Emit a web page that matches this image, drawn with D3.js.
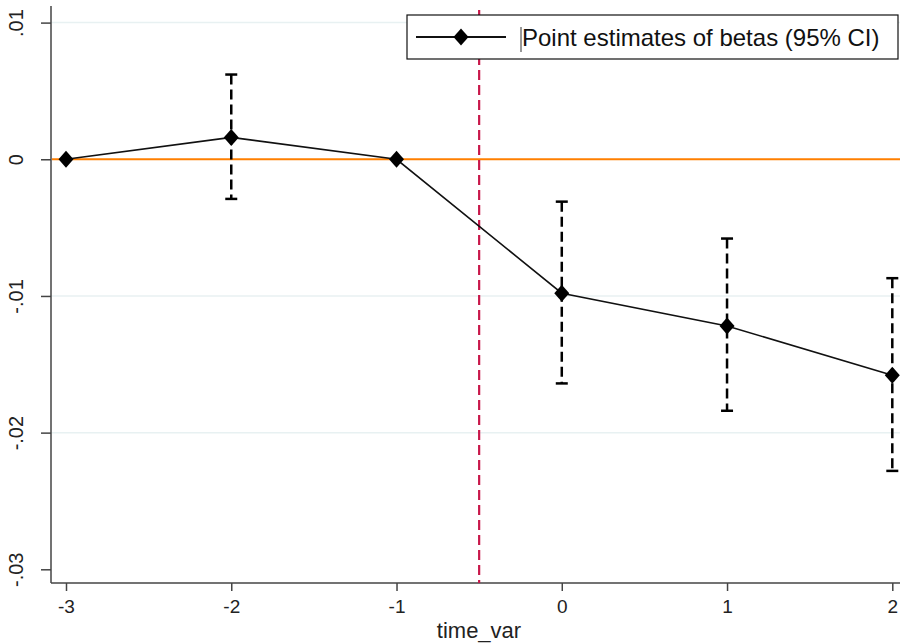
<!DOCTYPE html>
<html>
<head>
<meta charset="utf-8">
<script src="https://cdn.jsdelivr.net/npm/d3@7"></script>
<style>
  body { margin: 0; background: #fff; }
  svg { display: block; font-family: "Liberation Sans", Arial, sans-serif; }
</style>
</head>
<body>
<svg id="chart" width="900" height="643"></svg>
<script>
"use strict";
// event-study data
const periods = [-3, -2, -1, 0, 1, 2];
const betas = [0, 0.0016, 0, -0.0098, -0.0122, -0.0158];
const ciLow = [null, -0.0029, null, -0.0164, -0.0184, -0.0228];
const ciHigh = [null, 0.0062, null, -0.0031, -0.0058, -0.0087];
const xTicks = [-3, -2, -1, 0, 1, 2];
const xTickLabels = ["-3", "-2", "-1", "0", "1", "2"];
const yTicks = [0.01, 0, -0.01, -0.02, -0.03];
const yTickLabels = [".01", "0", "-.01", "-.02", "-.03"];
const gridTicks = [0.01, -0.01, -0.02];
const cutoff = -0.5;
const legendLabel = "Point estimates of betas (95% CI)";

function drawChart() {
    const svg = d3.select('#chart');
    svg.selectAll('*').remove();
    const left = 51, right = 900, top = 6, bottom = 583;

    const x = d3.scaleLinear().domain([-3, 2]).range([66, 892.3]);
    const y = d3.scaleLinear().domain([-0.03, 0.01]).range([569.3, 22.6]);

    // gridlines
    svg.append('g').selectAll('line')
        .data(gridTicks)
        .enter()
        .append('line')
        .attr('x1', left).attr('x2', right)
        .attr('y1', d => y(d)).attr('y2', d => y(d))
        .attr('stroke', '#e8f1f2')
        .attr('stroke-width', 1.5);

    // y axis
    const yAxis = svg.append('g')
        .attr('transform', `translate(${left},0)`)
        .call(d3.axisLeft(y).tickValues(yTicks).tickSize(10)
            .tickFormat((d, i) => yTickLabels[i]));
    yAxis.select('.domain').remove();
    yAxis.selectAll('.tick line').attr('stroke', '#444').attr('stroke-width', 1.5);
    yAxis.selectAll('.tick text')
        .attr('x', null).attr('dy', null)
        .attr('transform', 'translate(-28,0) rotate(-90)')
        .attr('text-anchor', 'middle')
        .attr('font-size', '20px')
        .attr('fill', '#222');

    // x axis
    const xAxis = svg.append('g')
        .attr('transform', `translate(0,${bottom})`)
        .call(d3.axisBottom(x).tickValues(xTicks).tickSize(8)
            .tickFormat((d, i) => xTickLabels[i]));
    xAxis.select('.domain').remove();
    xAxis.selectAll('.tick line').attr('stroke', '#444').attr('stroke-width', 1.5);
    xAxis.selectAll('.tick text')
        .attr('y', 30).attr('dy', null)
        .attr('font-size', '19px')
        .attr('fill', '#222');

    // axis lines
    svg.append('line')
        .attr('x1', left).attr('x2', left).attr('y1', top).attr('y2', bottom)
        .attr('stroke', '#444').attr('stroke-width', 1.5);
    svg.append('line')
        .attr('x1', left).attr('x2', right).attr('y1', bottom).attr('y2', bottom)
        .attr('stroke', '#444').attr('stroke-width', 1.5);

    svg.append('text')
        .attr('x', 479).attr('y', 638)
        .attr('text-anchor', 'middle')
        .attr('font-size', '22px')
        .attr('fill', '#222')
        .text('time_var');

    // zero reference line
    svg.append('line')
        .attr('x1', left + 1).attr('x2', right)
        .attr('y1', y(0)).attr('y2', y(0))
        .attr('stroke', '#ff7f00').attr('stroke-width', 2);

    // treatment cutoff
    svg.append('line')
        .attr('x1', x(cutoff)).attr('x2', x(cutoff))
        .attr('y1', 10).attr('y2', bottom)
        .attr('stroke', '#c8174a').attr('stroke-width', 2.2)
        .attr('stroke-dasharray', '10,5');

    // confidence intervals
    const ci = periods.map((p, i) => ({ p, lo: ciLow[i], hi: ciHigh[i] }))
        .filter(d => d.lo !== null);
    const ciG = svg.append('g');
    ciG.selectAll('line.bar')
        .data(ci)
        .enter()
        .append('line')
        .attr('class', 'bar')
        .attr('x1', d => x(d.p)).attr('x2', d => x(d.p))
        .attr('y1', d => y(d.hi)).attr('y2', d => y(d.lo))
        .attr('stroke', '#000').attr('stroke-width', 2.5)
        .attr('stroke-dasharray', '10,5');
    ['hi', 'lo'].forEach(k => {
        ciG.selectAll('line.cap-' + k)
            .data(ci)
            .enter()
            .append('line')
            .attr('class', 'cap-' + k)
            .attr('x1', d => x(d.p) - 6).attr('x2', d => x(d.p) + 6)
            .attr('y1', d => y(d[k])).attr('y2', d => y(d[k]))
            .attr('stroke', '#000').attr('stroke-width', 2.5);
    });

    // estimates line
    const pts = periods.map((p, i) => [p, betas[i]]);
    svg.append('path')
        .datum(pts)
        .attr('fill', 'none')
        .attr('stroke', '#111')
        .attr('stroke-width', 1.6)
        .attr('d', d3.line().x(d => x(d[0])).y(d => y(d[1])));

    const diamond = 'M0,-8.5L7.5,0L0,8.5L-7.5,0Z';
    svg.selectAll('path.marker')
        .data(pts)
        .enter()
        .append('path')
        .attr('class', 'marker')
        .attr('d', diamond)
        .attr('transform', d => `translate(${x(d[0])},${y(d[1])})`)
        .attr('fill', '#000');

    // legend
    const lg = svg.append('g');
    lg.append('rect')
        .attr('x', 407).attr('y', 15).attr('width', 491).attr('height', 44)
        .attr('fill', '#fff').attr('stroke', '#111').attr('stroke-width', 1.2);
    lg.append('line')
        .attr('x1', 416).attr('x2', 506).attr('y1', 37).attr('y2', 37)
        .attr('stroke', '#111').attr('stroke-width', 2);
    lg.append('path')
        .attr('d', diamond)
        .attr('transform', 'translate(461,37)')
        .attr('fill', '#000');
    lg.append('line')
        .attr('x1', 521).attr('x2', 521).attr('y1', 27).attr('y2', 52)
        .attr('stroke', '#333').attr('stroke-width', 1);
    lg.append('text')
        .attr('x', 522).attr('y', 46)
        .attr('font-size', '24px')
        .attr('fill', '#111')
        .text(legendLabel);
}
drawChart();
</script>
</body>
</html>
